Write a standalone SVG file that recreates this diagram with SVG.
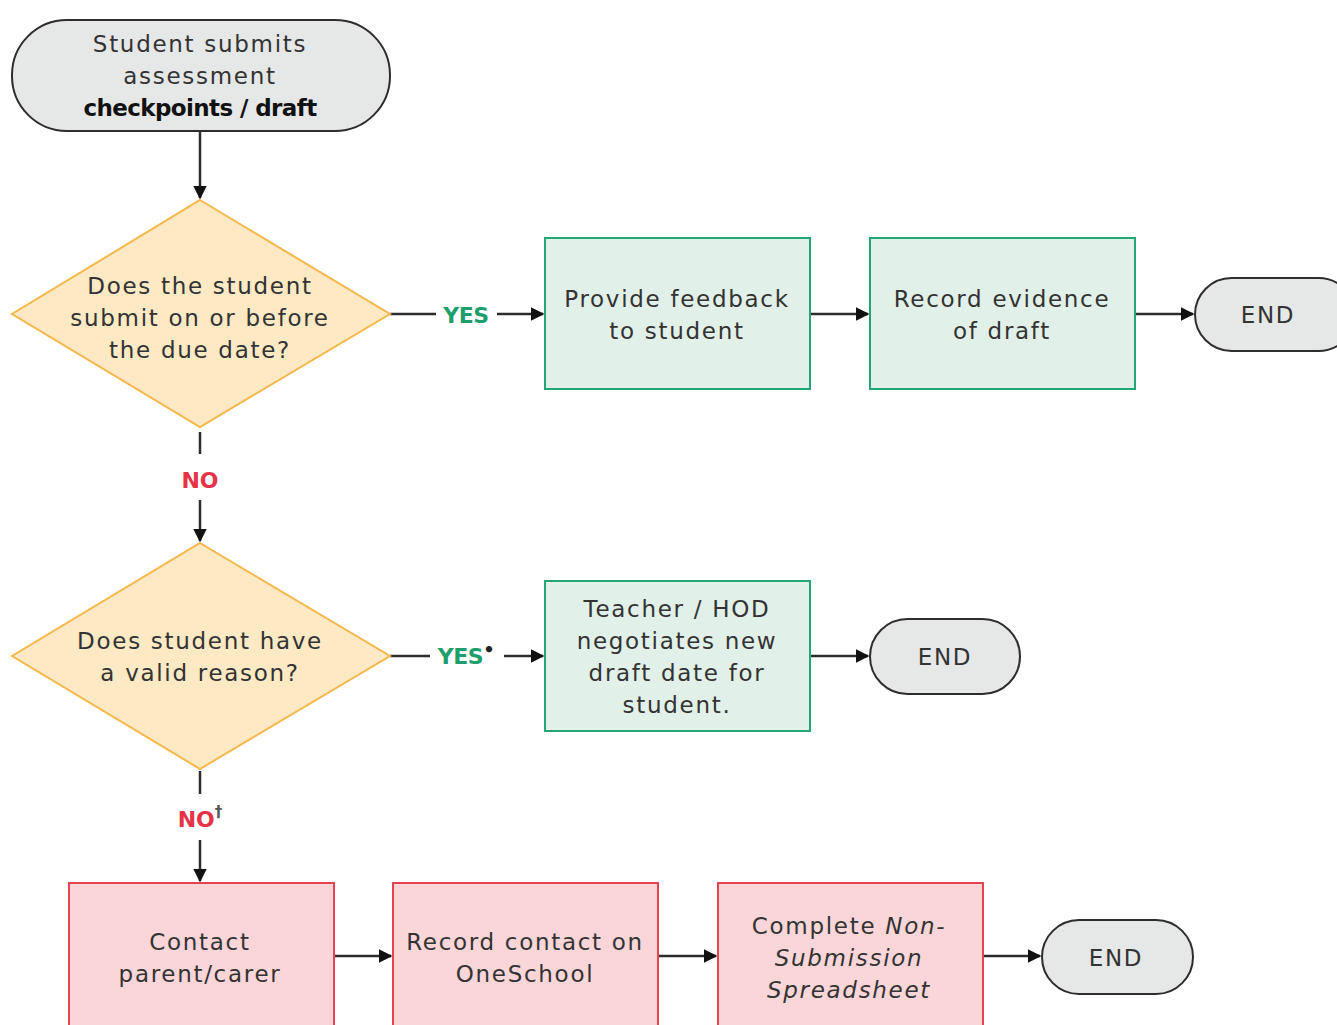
<svg xmlns="http://www.w3.org/2000/svg" width="1337" height="1025" viewBox="0 0 1337 1025">
<style>
text{font-family:"DejaVu Sans","Liberation Sans",Arial,sans-serif;font-size:23px;letter-spacing:1.7px;fill:#333;text-anchor:middle;dominant-baseline:central}
.term{fill:#e6e7e7;stroke:#2d2d2d;stroke-width:2}
.dec{fill:#fde9c3;stroke:#f6b84a;stroke-width:2}
.grn{fill:#e1f0e8;stroke:#22a673;stroke-width:2}
.red{fill:#fbd6d8;stroke:#e5434f;stroke-width:2}
.ln{stroke:#2d2d2d;stroke-width:2.5;fill:none}
.yes{fill:#1d9e6c;font-weight:bold;letter-spacing:-0.5px;font-size:22px}
.no{fill:#e63347;font-weight:bold;letter-spacing:0;font-size:22px}
.bold{font-weight:bold;fill:#111;letter-spacing:-0.6px}
</style>
<defs>
<marker id="ah" viewBox="0 0 10 10" refX="9" refY="5" markerWidth="5.5" markerHeight="5.5" orient="auto">
<path d="M0,0 L10,5 L0,10 z" fill="#111"/>
</marker>
</defs>
<rect width="1337" height="1025" fill="#fff"/>
<g id="connectors">
<line class="ln" x1="200" y1="131" x2="200" y2="198" marker-end="url(#ah)"/>
<line class="ln" x1="390" y1="314" x2="436" y2="314"/>
<line class="ln" x1="497" y1="314" x2="543" y2="314" marker-end="url(#ah)"/>
<line class="ln" x1="810" y1="314" x2="868" y2="314" marker-end="url(#ah)"/>
<line class="ln" x1="1135" y1="314" x2="1193" y2="314" marker-end="url(#ah)"/>
<line class="ln" x1="200" y1="432" x2="200" y2="454"/>
<line class="ln" x1="200" y1="500" x2="200" y2="541" marker-end="url(#ah)"/>
<line class="ln" x1="390" y1="656" x2="430" y2="656"/>
<line class="ln" x1="504" y1="656" x2="543" y2="656" marker-end="url(#ah)"/>
<line class="ln" x1="810" y1="656" x2="868" y2="656" marker-end="url(#ah)"/>
<line class="ln" x1="200" y1="771" x2="200" y2="794"/>
<line class="ln" x1="200" y1="840" x2="200" y2="881" marker-end="url(#ah)"/>
<line class="ln" x1="334" y1="956" x2="391" y2="956" marker-end="url(#ah)"/>
<line class="ln" x1="658" y1="956" x2="716" y2="956" marker-end="url(#ah)"/>
<line class="ln" x1="983" y1="956" x2="1040" y2="956" marker-end="url(#ah)"/>
<text class="yes" x="466" y="315">YES</text>
<text class="yes" x="466" y="656">YES<tspan font-size="18" dy="-7" style="fill:#222">•</tspan></text>
<text class="no" x="200" y="480">NO</text>
<text class="no" x="200" y="819">NO<tspan font-size="15" dy="-7" style="fill:#555">†</tspan></text>
</g>
<g id="start">
<rect class="term" x="12" y="20" width="378" height="111" rx="55"/>
<text x="200" y="44">Student submits</text>
<text x="200" y="76">assessment</text>
<text class="bold" x="200" y="108">checkpoints / draft</text>
</g>
<g id="decision1">
<polygon class="dec" points="200,200 390,314 200,427 12,314"/>
<text x="200" y="286">Does the student</text>
<text x="200" y="318">submit on or before</text>
<text x="200" y="350">the due date?</text>
</g>
<g id="feedback">
<rect class="grn" x="545" y="238" width="265" height="151"/>
<text x="677" y="299">Provide feedback</text>
<text x="677" y="331">to student</text>
</g>
<g id="evidence">
<rect class="grn" x="870" y="238" width="265" height="151"/>
<text x="1002" y="299">Record evidence</text>
<text x="1002" y="331">of draft</text>
</g>
<g id="end1">
<rect class="term" x="1195" y="278" width="160" height="73" rx="36.5"/>
<text x="1268" y="315">END</text>
</g>
<g id="decision2">
<polygon class="dec" points="200,543 390,656 200,769 12,656"/>
<text x="200" y="641">Does student have</text>
<text x="200" y="673">a valid reason?</text>
</g>
<g id="negotiate">
<rect class="grn" x="545" y="581" width="265" height="150"/>
<text x="677" y="609">Teacher / HOD</text>
<text x="677" y="641">negotiates new</text>
<text x="677" y="673">draft date for</text>
<text x="677" y="705">student.</text>
</g>
<g id="end2">
<rect class="term" x="870" y="619" width="150" height="75" rx="37.5"/>
<text x="945" y="657">END</text>
</g>
<g id="contact">
<rect class="red" x="69" y="883" width="265" height="160"/>
<text x="200" y="942">Contact</text>
<text x="200" y="974">parent/carer</text>
</g>
<g id="oneschool">
<rect class="red" x="393" y="883" width="265" height="160"/>
<text x="525" y="942">Record contact on</text>
<text x="525" y="974">OneSchool</text>
</g>
<g id="spreadsheet">
<rect class="red" x="718" y="883" width="265" height="160"/>
<text x="849" y="926">Complete <tspan font-style="italic">Non-</tspan></text>
<text x="849" y="958" font-style="italic">Submission</text>
<text x="849" y="990" font-style="italic">Spreadsheet</text>
</g>
<g id="end3">
<rect class="term" x="1042" y="920" width="151" height="74" rx="37"/>
<text x="1116" y="958">END</text>
</g>
</svg>
